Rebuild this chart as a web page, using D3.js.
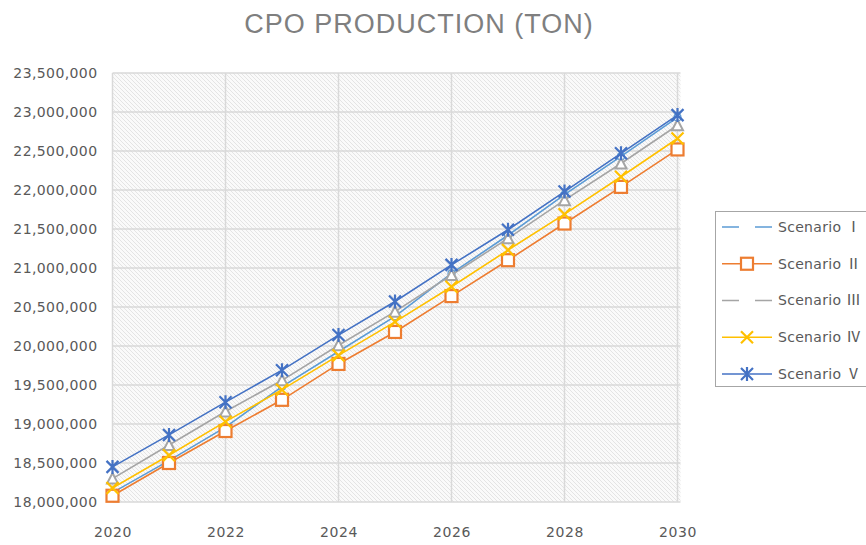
<!DOCTYPE html>
<html>
<head>
<meta charset="utf-8">
<script src="https://cdn.jsdelivr.net/npm/d3@7"></script>
<style>
  body { margin: 0; background: #fff; }
  svg text { font-family: "DejaVu Sans", sans-serif; }
</style>
</head>
<body>
<svg id="chart" width="866" height="545"></svg>
<script>
// years on the x axis, values in tons
const years = [2020, 2021, 2022, 2023, 2024, 2025, 2026, 2027, 2028, 2029, 2030];
const xTicks = [2020, 2022, 2024, 2026, 2028, 2030];
const yTicks = [18000000, 18500000, 19000000, 19500000, 20000000, 20500000,
                21000000, 21500000, 22000000, 22500000, 23000000, 23500000];

const scenario1 = [18120000, 18530000, 18960000, 19480000, 19930000, 20380000, 20930000, 21420000, 21940000, 22430000, 22930000];
const scenario2 = [18080000, 18500000, 18910000, 19310000, 19770000, 20180000, 20640000, 21100000, 21570000, 22040000, 22520000];
const scenario3 = [18300000, 18730000, 19160000, 19560000, 20010000, 20440000, 20910000, 21380000, 21870000, 22340000, 22830000];
const scenario4 = [18180000, 18600000, 19030000, 19440000, 19880000, 20310000, 20760000, 21230000, 21690000, 22170000, 22660000];
const scenario5 = [18450000, 18860000, 19280000, 19690000, 20140000, 20570000, 21040000, 21490000, 21980000, 22470000, 22960000];

const seriesLabel = "Scenario";
const seriesNumerals = ["\u2160", "\u2161", "\u2162", "\u2163", "\u2164"];

const series = [
  { id: 0, values: scenario1, color: "#5B9BD5", marker: "circle" },
  { id: 1, values: scenario2, color: "#ED7D31", marker: "square" },
  { id: 2, values: scenario3, color: "#A5A5A5", marker: "triangle" },
  { id: 3, values: scenario4, color: "#FFC000", marker: "x" },
  { id: 4, values: scenario5, color: "#4472C4", marker: "star" },
];

const svg = d3.select("#chart");
const plotL = 112.5, plotR = 677.5, plotT = 73, plotB = 502;

const x = d3.scaleLinear().domain([2020, 2030]).range([plotL, plotR]);
const y = d3.scaleLinear().domain([18000000, 23500000]).range([plotB, plotT]);

// hatched plot background
const defs = svg.append("defs");
const pat = defs.append("pattern")
  .attr("id", "hatch")
  .attr("patternUnits", "userSpaceOnUse")
  .attr("width", 4).attr("height", 4);
pat.append("rect").attr("width", 4).attr("height", 4).attr("fill", "#fafafa");
pat.append("path").attr("d", "M-1,-1 L5,5 M3,-1 L5,1 M-1,3 L1,5")
  .attr("stroke", "#e4e4e4").attr("stroke-width", 1);

svg.append("rect")
  .attr("x", plotL).attr("y", plotT)
  .attr("width", plotR - plotL + 3).attr("height", plotB - plotT)
  .attr("fill", "url(#hatch)");

// gridlines
svg.append("g").selectAll("line").data(yTicks).join("line")
  .attr("x1", plotL).attr("x2", plotR + 3)
  .attr("y1", d => y(d)).attr("y2", d => y(d))
  .attr("stroke", "#d9d9d9").attr("stroke-width", 1.5);

svg.append("g").selectAll("line").data(xTicks).join("line")
  .attr("x1", d => x(d)).attr("x2", d => x(d))
  .attr("y1", plotT).attr("y2", plotB)
  .attr("stroke", "#d9d9d9").attr("stroke-width", 1.5);

// axes (labels only)
const yAxis = svg.append("g")
  .attr("transform", `translate(${plotL - 12},0)`)
  .call(d3.axisLeft(y).tickValues(yTicks).tickSize(0).tickFormat(d3.format(",")));
yAxis.select(".domain").remove();
yAxis.selectAll("text")
  .attr("fill", "#595959").attr("font-size", 14)
  .attr("letter-spacing", "0.4px")
  .style("font-family", "DejaVu Sans, sans-serif");

const xAxis = svg.append("g")
  .attr("transform", `translate(0,${plotB + 22})`)
  .call(d3.axisBottom(x).tickValues(xTicks).tickSize(0).tickFormat(d3.format("d")));
xAxis.select(".domain").remove();
xAxis.selectAll("text")
  .attr("fill", "#595959").attr("font-size", 14)
  .attr("letter-spacing", "0.6px")
  .style("font-family", "DejaVu Sans, sans-serif");

// title
svg.append("text")
  .attr("x", 419).attr("y", 33)
  .attr("text-anchor", "middle")
  .attr("fill", "#7f7f7f")
  .attr("font-size", 27)
  .attr("letter-spacing", "1px")
  .style("font-family", "Liberation Sans, Arial, sans-serif")
  .text("CPO PRODUCTION (TON)");

// marker drawing
function drawMarker(g, type, color) {
  if (type === "circle") {
    g.append("circle").attr("r", 3.5).attr("fill", "#fff")
      .attr("stroke", color).attr("stroke-width", 1.2);
  } else if (type === "square") {
    g.append("rect").attr("x", -6).attr("y", -6).attr("width", 12).attr("height", 12)
      .attr("fill", "#fff").attr("stroke", color).attr("stroke-width", 2.2);
  } else if (type === "triangle") {
    g.append("path").attr("d", "M0,-5.5 L5.5,5 L-5.5,5 Z")
      .attr("fill", "#fff").attr("stroke", color).attr("stroke-width", 2);
  } else if (type === "x") {
    g.append("path").attr("d", "M-6,-6 L6,6 M-6,6 L6,-6")
      .attr("stroke", color).attr("stroke-width", 2.2);
  } else if (type === "star") {
    g.append("path").attr("d", "M-6,-6 L6,6 M-6,6 L6,-6 M0,-7 L0,7")
      .attr("stroke", color).attr("stroke-width", 2.2);
  }
}

const line = d3.line().x((d, i) => x(years[i])).y(d => y(d));

series.forEach(s => {
  const g = svg.append("g");
  g.append("path")
    .attr("d", line(s.values))
    .attr("fill", "none")
    .attr("stroke", s.color)
    .attr("stroke-width", 1.6);
  s.values.forEach((v, i) => {
    const m = g.append("g").attr("transform", `translate(${x(years[i])},${y(v)})`);
    drawMarker(m, s.marker, s.color);
  });
});

// legend
const lg = svg.append("g");
lg.append("rect")
  .attr("x", 715.5).attr("y", 211.5)
  .attr("width", 160).attr("height", 175)
  .attr("fill", "#fff").attr("stroke", "#a6a6a6").attr("stroke-width", 1);

const legendY = d3.scalePoint().domain(seriesNumerals).range([227, 374]);
series.forEach(s => {
  const ly = legendY(seriesNumerals[s.id]);
  const item = lg.append("g");
  item.append("line")
    .attr("x1", 722).attr("x2", 772)
    .attr("y1", ly).attr("y2", ly)
    .attr("stroke", s.color).attr("stroke-width", 1.6);
  const m = item.append("g").attr("transform", `translate(747,${ly})`);
  if (s.marker === "circle" || s.marker === "triangle") {
    // legend shows a gap in the middle for these
    m.append("rect").attr("x", -8).attr("y", -3).attr("width", 16).attr("height", 6).attr("fill", "#fff");
  } else {
    drawMarker(m, s.marker, s.color);
  }
  const t = item.append("text")
    .attr("x", 778).attr("y", ly)
    .attr("dy", "0.35em")
    .attr("fill", "#595959")
    .attr("font-size", 14)
    .attr("letter-spacing", "0.3px");
  t.append("tspan").text(seriesLabel + " ");
  t.append("tspan")
    .style("font-family", "Noto Sans CJK JP, sans-serif")
    .attr("font-size", 15)
    .text(seriesNumerals[s.id]);
});
</script>
</body>
</html>
